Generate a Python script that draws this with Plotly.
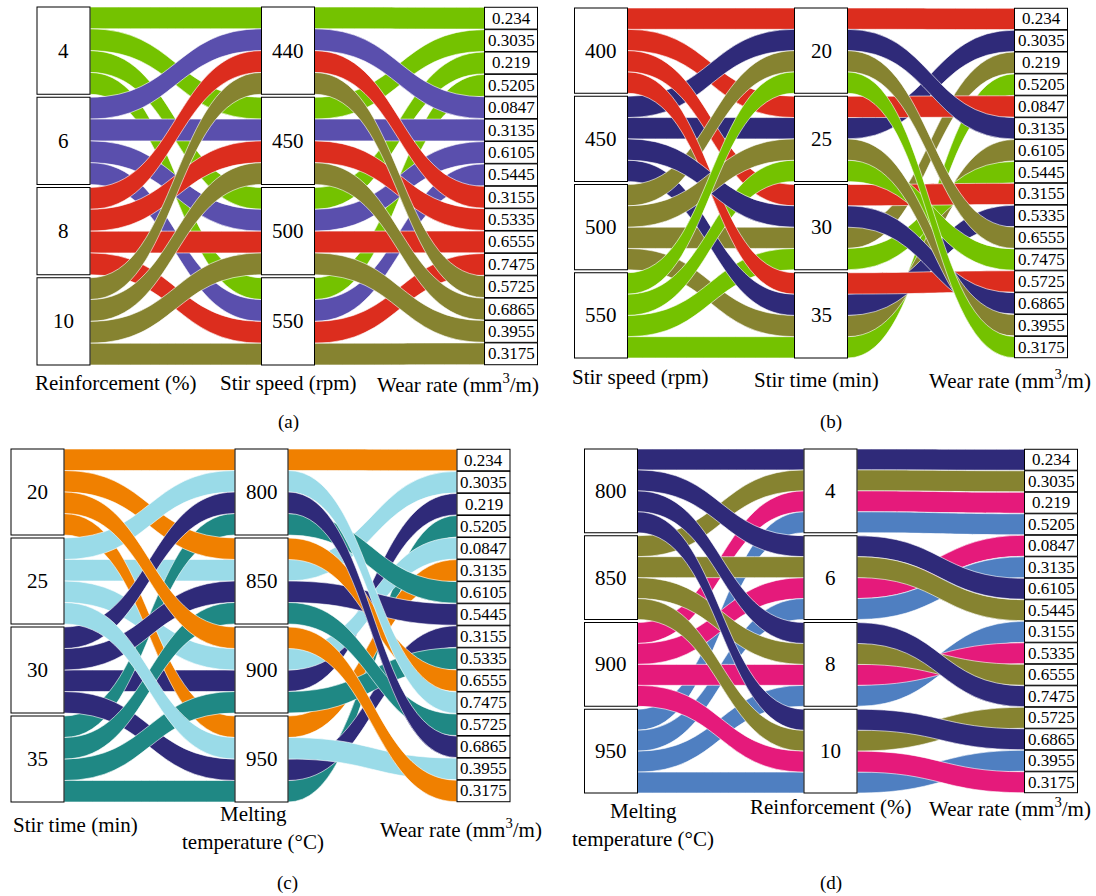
import plotly.graph_objects as go

FIG_W, FIG_H = 1096, 896

# ---------------- data (L16 experiments, run order) ----------------
wear_rate = [0.234, 0.3035, 0.219, 0.5205, 0.0847, 0.3135, 0.6105, 0.5445,
             0.3155, 0.5335, 0.6555, 0.7475, 0.5725, 0.6865, 0.3955, 0.3175]
reinforcement = [4, 4, 4, 4, 6, 6, 6, 6, 8, 8, 8, 8, 10, 10, 10, 10]
stir_speed = [400, 450, 500, 550, 400, 450, 500, 550,
              400, 450, 500, 550, 400, 450, 500, 550]
stir_time = [20, 25, 30, 35, 25, 20, 35, 30, 30, 35, 20, 25, 35, 30, 25, 20]
melt_temp = [800, 850, 900, 950, 900, 950, 800, 850,
             950, 900, 850, 800, 850, 800, 950, 900]

reinf_levels = [4, 6, 8, 10]
speed_levels = [400, 450, 500, 550]
time_levels = [20, 25, 30, 35]
temp_levels = [800, 850, 900, 950]

reinf_ticks = ["4", "6", "8", "10"]
speed_ticks_a = ["440", "450", "500", "550"]
speed_ticks_b = ["400", "450", "500", "550"]
time_ticks = ["20", "25", "30", "35"]
temp_ticks = ["800", "850", "900", "950"]
wear_ticks = [str(v) for v in wear_rate]

# ---------------- styling ----------------
GREEN, PURPLE, RED, OLIVE = "#74C200", "#5A4FAD", "#DC2D1E", "#868330"
NAVY, ORANGE, LBLUE, TEAL = "#2F2A79", "#F08000", "#9ADBE8", "#1F8884"
PINK, BLUE = "#E51A7B", "#4F7FC1"
FONT = "Liberation Serif"
THICK = 53
PAD = 0.6

panels = [
    dict(first=reinforcement, first_levels=reinf_levels, first_ticks=reinf_ticks,
         mid=stir_speed, mid_levels=speed_levels, mid_ticks=speed_ticks_a,
         colors=[GREEN, PURPLE, RED, OLIVE],
         titles=[["Reinforcement (%)"], ["Stir speed (rpm)"], ["Wear rate (mm<sup>3</sup>/m)"]],
         cx=(63.5, 288, 511), top=7, bottom=365,
         title_pos=[(116, 383), (288, 383), (458, 383)],
         caption="(a)", caption_pos=(288, 422)),
    dict(first=stir_speed, first_levels=speed_levels, first_ticks=speed_ticks_b,
         mid=stir_time, mid_levels=time_levels, mid_ticks=time_ticks,
         colors=[RED, NAVY, OLIVE, GREEN],
         titles=[["Stir speed (rpm)"], ["Stir time (min)"], ["Wear rate (mm<sup>3</sup>/m)"]],
         cx=(601, 821, 1041), top=8, bottom=358,
         title_pos=[(640, 377), (816, 380), (1010, 380)],
         caption="(b)", caption_pos=(831, 422)),
    dict(first=stir_time, first_levels=time_levels, first_ticks=time_ticks,
         mid=melt_temp, mid_levels=temp_levels, mid_ticks=temp_ticks,
         colors=[ORANGE, LBLUE, NAVY, TEAL],
         titles=[["Stir time (min)"], ["Melting", "temperature (°C)"], ["Wear rate (mm<sup>3</sup>/m)"]],
         cx=(37.5, 261.5, 483.5), top=449, bottom=802,
         title_pos=[(75, 825), (253, 828), (461, 828)],
         caption="(c)", caption_pos=(287, 883)),
    dict(first=melt_temp, first_levels=temp_levels, first_ticks=temp_ticks,
         mid=reinforcement, mid_levels=reinf_levels, mid_ticks=reinf_ticks,
         colors=[NAVY, OLIVE, PINK, BLUE],
         titles=[["Melting", "temperature (°C)"], ["Reinforcement (%)"], ["Wear rate (mm<sup>3</sup>/m)"]],
         cx=(611, 830.5, 1051), top=449, bottom=793,
         title_pos=[(643, 825), (831, 807), (1010, 807)],
         caption="(d)", caption_pos=(831, 883)),
]

fig = go.Figure()
annotations = []
CLEAR = "rgba(0,0,0,0)"
LINE_STEP = 28


def px_to_paper(x, y):
    return x / FIG_W, 1 - y / FIG_H


for p in panels:
    n = len(wear_rate)
    H = p["bottom"] - p["top"]
    x0_px = p["cx"][0] - THICK / 2 - 1
    W = p["cx"][2] - p["cx"][0] + THICK + 2
    dom_x = [x0_px / FIG_W, (x0_px + W) / FIG_W]
    dom_y = [1 - p["bottom"] / FIG_H, 1 - p["top"] / FIG_H]
    ky = (H - (n - 1) * PAD) / n
    gap = (H - n * ky) / 3
    group_h = 4 * ky

    fi = [p["first_levels"].index(v) for v in p["first"]]
    mi = [p["mid_levels"].index(v) for v in p["mid"]]
    X = [(c - x0_px) / W for c in p["cx"]]

    left_y = [i * (group_h + gap) + group_h / 2 for i in range(4)]
    mid_y = [j * (group_h + gap) + group_h / 2 for j in range(4)]
    right_y = [(r + 0.5) * H / n for r in range(n)]
    # slots inside each middle box: paths keep their order (by first dimension)
    sub_y = [0.0] * n
    for j in range(4):
        runs = sorted([r for r in range(n) if mi[r] == j], key=lambda r: (fi[r], r))
        for k, r in enumerate(runs):
            sub_y[r] = j * (group_h + gap) + (k + 0.5) * ky

    # ---- flows ----
    node_x = [X[0]] * 4 + [X[1]] * n + [X[2]] * n
    node_y = [v / H for v in left_y + sub_y + right_y]
    src, tgt, val, col = [], [], [], []
    for r in range(n):
        src += [fi[r], 4 + r]
        tgt += [4 + r, 4 + n + r]
        val += [1, 1]
        col += [p["colors"][fi[r]]] * 2
    fig.add_trace(go.Sankey(
        domain=dict(x=dom_x, y=dom_y),
        arrangement="fixed",
        node=dict(pad=PAD, thickness=THICK, x=node_x, y=node_y,
                  color=CLEAR, line=dict(color=CLEAR, width=0)),
        link=dict(source=src, target=tgt, value=val, color=col,
                  line=dict(color="white", width=0.6)),
    ))

    # ---- boxes ----
    box_x = [X[0]] * 4 + [X[1]] * 4 + [X[2]] * n
    box_y = [v / H for v in left_y + mid_y + right_y]
    bsrc, btgt, bval = [], [], []
    for r in range(n):
        bsrc += [fi[r], 4 + mi[r]]
        btgt += [4 + mi[r], 8 + r]
        bval += [1, 1]
    fig.add_trace(go.Sankey(
        domain=dict(x=dom_x, y=dom_y),
        arrangement="fixed",
        hoverinfo="skip",
        node=dict(pad=PAD, thickness=THICK, x=box_x, y=box_y,
                  color="white", line=dict(color="black", width=1),
                  hoverinfo="skip"),
        link=dict(source=bsrc, target=btgt, value=bval, color=CLEAR,
                  line=dict(color=CLEAR, width=0), hoverinfo="skip"),
    ))

    # ---- labels ----
    for i in range(4):
        ax, ay = px_to_paper(p["cx"][0], p["top"] + left_y[i])
        annotations.append(dict(x=ax, y=ay, text=p["first_ticks"][i],
                                font=dict(size=21)))
        ax, ay = px_to_paper(p["cx"][1], p["top"] + mid_y[i])
        annotations.append(dict(x=ax, y=ay, text=p["mid_ticks"][i],
                                font=dict(size=21)))
    for r in range(n):
        ax, ay = px_to_paper(p["cx"][2], p["top"] + right_y[r])
        annotations.append(dict(x=ax, y=ay, text=wear_ticks[r],
                                font=dict(size=17)))
    for lines, (tx, ty) in zip(p["titles"], p["title_pos"]):
        k = len(lines)
        for li, t in enumerate(lines):
            ly = ty + (li - (k - 1) / 2) * LINE_STEP
            ax, ay = px_to_paper(tx, ly)
            annotations.append(dict(x=ax, y=ay, text=t, font=dict(size=21)))
    ax, ay = px_to_paper(*p["caption_pos"])
    annotations.append(dict(x=ax, y=ay, text=p["caption"], font=dict(size=19)))

for a in annotations:
    a.update(xref="paper", yref="paper", showarrow=False,
             xanchor="center", yanchor="middle")
    a["font"].update(family=FONT, color="black")

fig.update_layout(
    width=FIG_W, height=FIG_H, autosize=False,
    margin=dict(l=0, r=0, t=0, b=0),
    paper_bgcolor="white", plot_bgcolor="white",
    font=dict(family=FONT, color="black"),
    annotations=annotations,
    showlegend=False,
)

fig.write_html("out.html", config={"displayModeBar": False},
               post_script="document.body.style.margin='0';")
